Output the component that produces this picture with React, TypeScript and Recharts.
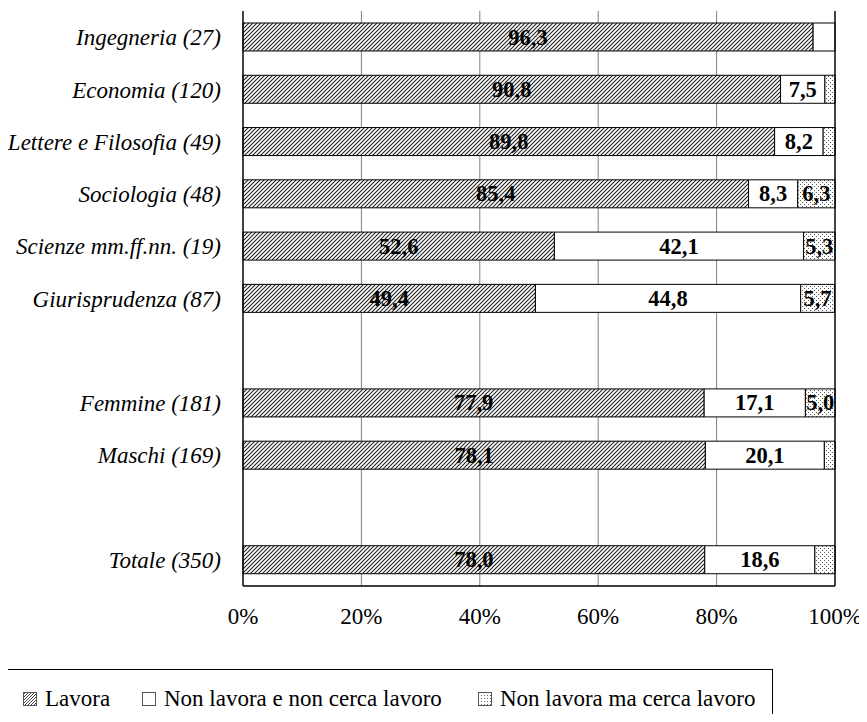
import React from 'react';
import {
  BarChart,
  Bar,
  XAxis,
  YAxis,
  CartesianGrid,
  LabelList,
  ReferenceLine
} from 'recharts';

// categories (blank entries are the spacer rows)
const categories = [
  'Ingegneria (27)',
  'Economia (120)',
  'Lettere e Filosofia (49)',
  'Sociologia (48)',
  'Scienze mm.ff.nn. (19)',
  'Giurisprudenza (87)',
  ' ',
  'Femmine (181)',
  'Maschi (169)',
  '  ',
  'Totale (350)'
];

const lavora = [96.3, 90.8, 89.8, 85.4, 52.6, 49.4, null, 77.9, 78.1, null, 78.0];
const nonCerca = [3.7, 7.5, 8.2, 8.3, 42.1, 44.8, null, 17.1, 20.1, null, 18.6];
const cerca = [0, 1.7, 2.0, 6.3, 5.3, 5.7, null, 5.0, 1.8, null, 3.4];

const xTicks = [0, 20, 40, 60, 80, 100];

const data = categories.map((name, i) => ({
  name,
  lavora: lavora[i],
  nonCerca: nonCerca[i],
  cerca: cerca[i]
}));

const FONT = '"Liberation Serif", "Times New Roman", serif';

const renderLabel = (props: any) => {
  const { x, y, width, height, value } = props;
  if (value == null || value < 5) return null;
  return (
    <text
      x={Number(x) + Number(width) / 2}
      y={Number(y) + Number(height) / 2 + 7.5}
      textAnchor="middle"
      fontFamily={FONT}
      fontWeight="bold"
      fontSize={22.5}
      fill="#000"
    >
      {Number(value).toFixed(1).replace('.', ',')}
    </text>
  );
};

const Swatch = ({ kind }: { kind: string }) => (
  <svg width={14} height={14} style={{ display: 'block' }}>
    <defs>
      <pattern id={`sw-hatch`} patternUnits="userSpaceOnUse" width={3} height={3}>
        <rect width={3} height={3} fill="#fff" />
        <path d="M-1,1 l2,-2 M0,3 l3,-3 M2,4 l2,-2" stroke="#333" strokeWidth={0.9} />
      </pattern>
      <pattern id={`sw-dots`} patternUnits="userSpaceOnUse" width={3} height={3}>
        <rect width={3} height={3} fill="#fff" />
        <rect x={0} y={0} width={1} height={1} fill="#666" />
      </pattern>
    </defs>
    <rect
      x={0.5}
      y={0.5}
      width={13}
      height={13}
      fill={kind === 'hatch' ? 'url(#sw-hatch)' : kind === 'dots' ? 'url(#sw-dots)' : '#fff'}
      stroke="#555"
      strokeWidth={1}
    />
  </svg>
);

const legendItems = [
  { kind: 'hatch', label: 'Lavora', left: 16 },
  { kind: 'white', label: 'Non lavora e non cerca lavoro', left: 135 },
  { kind: 'dots', label: 'Non lavora ma cerca lavoro', left: 471 }
];

export default function App() {
  return (
    <div
      style={{
        position: 'relative',
        width: 859,
        height: 714,
        overflow: 'hidden',
        marginBottom: -8,
        fontFamily: FONT
      }}
    >
      <BarChart
        width={859}
        height={625}
        data={data}
        layout="vertical"
        margin={{ top: 3, right: 32, left: 0, bottom: 0 }}
      >
        <defs>
          <pattern id="hatch" patternUnits="userSpaceOnUse" width={4} height={4}>
            <rect width={4} height={4} fill="#fff" />
            <path d="M-1,1 l2,-2 M0,4 l4,-4 M3,5 l2,-2" stroke="#222" strokeWidth={1.1} />
          </pattern>
          <pattern id="dots" patternUnits="userSpaceOnUse" width={4} height={4}>
            <rect width={4} height={4} fill="#fff" />
            <rect x={0} y={0} width={1} height={1} fill="#555" />
            <rect x={2} y={2} width={1} height={1} fill="#555" />
          </pattern>
        </defs>
        <CartesianGrid horizontal={false} stroke="#808080" strokeWidth={1} />
        <XAxis
          type="number"
          domain={[0, 100]}
          ticks={xTicks}
          tickFormatter={(v: number) => `${v}%`}
          tickLine={false}
          tickSize={0}
          tickMargin={22}
          height={47}
          axisLine={{ stroke: '#000', strokeWidth: 1.3 }}
          tick={{ fill: '#000', fontSize: 23, fontFamily: FONT }}
          interval={0}
        />
        <XAxis
          xAxisId="top"
          orientation="top"
          type="number"
          domain={[0, 100]}
          tick={false}
          tickLine={false}
          height={0}
          axisLine={{ stroke: '#000', strokeWidth: 1.3 }}
        />
        <YAxis
          type="category"
          dataKey="name"
          width={235}
          tickLine={false}
          tickSize={0}
          tickMargin={22}
          interval={0}
          axisLine={{ stroke: '#000', strokeWidth: 1.3 }}
          tick={{ fill: '#000', fontSize: 23, fontFamily: FONT, fontStyle: 'italic' }}
        />
        <ReferenceLine x={100} stroke="#000" strokeWidth={1.3} />
        <Bar dataKey="lavora" stackId="a" barSize={28} fill="url(#hatch)" stroke="#000" strokeWidth={1} isAnimationActive={false}>
          <LabelList dataKey="lavora" content={renderLabel} />
        </Bar>
        <Bar dataKey="nonCerca" stackId="a" barSize={28} fill="#fff" stroke="#000" strokeWidth={1} isAnimationActive={false}>
          <LabelList dataKey="nonCerca" content={renderLabel} />
        </Bar>
        <Bar dataKey="cerca" stackId="a" barSize={28} fill="url(#dots)" stroke="#000" strokeWidth={1} isAnimationActive={false}>
          <LabelList dataKey="cerca" content={renderLabel} />
        </Bar>
      </BarChart>
      <div
        style={{
          position: 'absolute',
          left: -2,
          top: 661,
          width: 767,
          height: 80,
          border: '1.3px solid #000',
          boxSizing: 'border-box'
        }}
      >
        {legendItems.map((it) => (
          <div
            key={it.label}
            style={{
              position: 'absolute',
              left: it.left,
              top: 16,
              display: 'flex',
              alignItems: 'center',
              fontSize: 23,
              lineHeight: '26px',
              whiteSpace: 'nowrap'
            }}
          >
            <Swatch kind={it.kind} />
            <span style={{ marginLeft: 8 }}>{it.label}</span>
          </div>
        ))}
      </div>
    </div>
  );
}
